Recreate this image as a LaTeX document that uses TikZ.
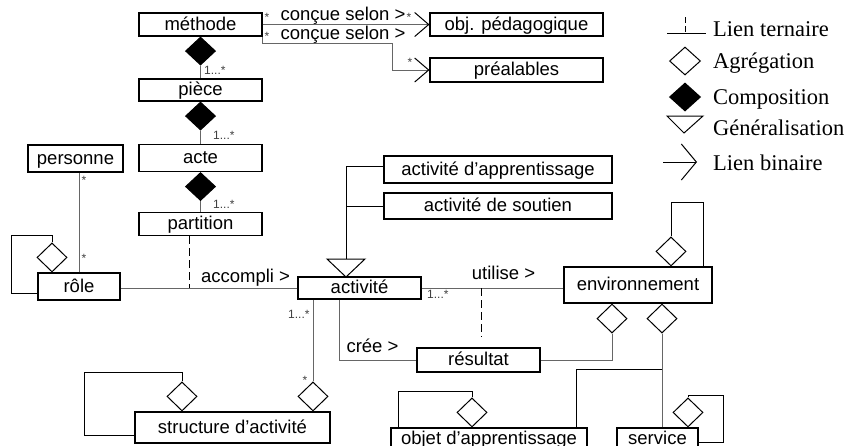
\documentclass[tikz,border=0pt]{standalone}
\usepackage{fontspec}
\setmainfont{Liberation Sans}
\newfontfamily\legendfont{Liberation Serif}
\usetikzlibrary{shapes.geometric,arrows.meta}

\begin{document}
\begin{tikzpicture}[x=1pt,y=-1pt,
  box/.style={draw=black, line width=1.1pt, inner sep=0pt,
    font=\fontsize{18.5}{18.5}\selectfont, text height=13pt, text depth=2pt},
  conn/.style={draw=black!60, line width=1pt},
  loopline/.style={draw=black, line width=1pt},
  aggr/.style={diamond, draw=black, line width=1pt, fill=white,
    minimum width=30pt, minimum height=29pt, inner sep=0pt},
  comp/.style={aggr, fill=black, minimum height=28pt},
  mult/.style={font=\fontsize{12}{12}\selectfont, text=black!75, inner sep=0pt, anchor=base west},
  star/.style={font=\fontsize{12}{12}\selectfont, text=black!75, inner sep=0pt, anchor=base},
  assoc/.style={font=\fontsize{18.5}{18.5}\selectfont, inner sep=0pt, anchor=base},
  tern/.style={draw=black, line width=1pt, dash pattern=on 8pt off 4pt},
  binarrow/.style={-{Straight Barb[length=14pt,width=24pt,line width=1pt,color=black]}},
  legendtext/.style={font=\legendfont\fontsize{22.5}{22.5}\selectfont, anchor=base west, inner sep=0pt}
]
\useasboundingbox (0,0) rectangle (851,445);

% ---- classes ----
\node[box, minimum width=123pt, minimum height=23pt] (methode) at (200.5,24.5) {méthode};
\node[box, minimum width=123pt, minimum height=22pt] (piece) at (200.5,90) {pièce};
\node[box, minimum width=123pt, minimum height=27pt] (acte) at (200.5,158) {acte};
\node[box, minimum width=123pt, minimum height=23pt] (partition) at (200.5,224) {partition};
\node[box, minimum width=95pt, minimum height=27pt] (personne) at (75.5,158.5) {personne};
\node[box, minimum width=82pt, minimum height=27pt] (role) at (79,286.5) {rôle};
\node[box, minimum width=123pt, minimum height=22pt] (activite) at (359.5,288) {activité};
\node[box, minimum width=228pt, minimum height=27pt] (actapp) at (498,169.5) {activité d’apprentissage};
\node[box, minimum width=228pt, minimum height=26pt] (actsout) at (498,206) {activité de soutien};
\node[box, minimum width=173pt, minimum height=23pt] (objped) at (516.5,24.5) {obj. pédagogique};
\node[box, minimum width=173pt, minimum height=24pt] (prealables) at (516.5,70) {préalables};
\node[box, minimum width=148pt, minimum height=36pt] (environnement) at (638,285) {environnement};
\node[box, minimum width=123pt, minimum height=24pt] (resultat) at (478.5,360) {résultat};
\node[box, minimum width=195pt, minimum height=31pt] (structure) at (232.5,427.5) {structure d’activité};
\node[box, minimum width=196pt, minimum height=22pt] (objet) at (489,439) {objet d’apprentissage};
\node[box, minimum width=81pt, minimum height=22pt] (service) at (657.5,439) {service};

% ---- méthode : conçue selon ----
\draw[conn, binarrow] (methode.east) -- (objped.west);
\draw[conn, binarrow] (methode.south east) |- (392,43) |- (prealables.west);
\node[assoc] (cs1) at (343,20.5) {conçue selon >};
\node[assoc] (cs2) at (343,39.5) {conçue selon >};
\node[star] (s1) at (267,21) {*};
\node[star] (s2) at (267,40) {*};
\node[star] (s3) at (409,21) {*};
\node[star] (s4) at (410,66) {*};

% ---- composition chain ----
\node[comp, anchor=north] (dc1) at (methode.south) {};
\draw[conn] (dc1.south) -- (piece.north);
\node[mult] (m1) at (204,74) {1...*};
\node[comp, anchor=north] (dc2) at (piece.south) {};
\draw[conn] (dc2.south) -- (acte.north);
\node[mult] (m2) at (213,139) {1...*};
\node[comp, anchor=north] (dc3) at (acte.south) {};
\draw[conn] (dc3.south) -- (partition.north);
\node[mult] (m3) at (213,208) {1...*};

% ---- personne / rôle ----
\draw[conn] (role.north) -- (role.north |- personne.south);
\node[star] (s5) at (84,184) {*};
\node[star] (s6) at (84,262) {*};
\node[aggr, anchor=south] (drl) at ([xshift=-27pt]role.north) {};
\draw[loopline] (drl.north) |- (11,235) |- ([yshift=-6.5pt]role.west);

% ---- rôle accompli activité ----
\draw[conn] (activite.west) -- (activite.west -| role.east);
\coordinate (pt) at ([xshift=-11.5pt]partition.south);
\draw[tern] (pt) -- (pt |- activite.west);
\node[assoc] (acc) at (245.5,282) {accompli >};

% ---- generalisation ----
\coordinate (gtop) at (346,259);
\draw[loopline] (327,259) -- (365,259) -- (346,277) -- cycle;
\coordinate (aa) at ([yshift=3.5pt]actapp.west);
\draw[loopline] (aa) -| (gtop);
\draw[loopline] (actsout.west) -| (gtop);

% ---- activité utilise environnement ----
\draw[conn] (activite.east) -- (activite.east -| environnement.west);
\node[mult] (m4) at (427,298) {1...*};
\node[assoc] (uti) at (503.5,279) {utilise >};
\coordinate (tend) at (481,337);
\draw[tern] (tend |- activite.east) -- (tend);

% ---- activité crée résultat ----
\coordinate (ac) at ([xshift=-20.5pt]activite.south);
\draw[conn] (ac) |- (resultat.west);
\node[assoc] (cree) at (372.5,352) {crée >};

% ---- environnement ----
\node[aggr, anchor=south] (dl) at ([xshift=33pt]environnement.north) {};
\coordinate (el) at ([xshift=65pt]environnement.north);
\draw[loopline] (dl.north) -- ++(0,-34) -| (el);
\node[aggr, anchor=north] (dre) at ([xshift=-26pt]environnement.south) {};
\node[aggr, anchor=north] (dse) at ([xshift=24pt]environnement.south) {};
\draw[conn] (resultat.east) -| (dre.south);
\draw[conn] (dse.south) -- (dse.south |- service.north);
\path (dse.south) ++(0,36) coordinate (junc);
\coordinate (ot) at ([xshift=87pt]objet.north);
\draw[loopline] (junc) -| (ot);

% ---- objet d'apprentissage / service loops ----
\node[aggr, anchor=south] (dol) at ([xshift=-17pt]objet.north) {};
\coordinate (ol) at ([xshift=-91pt]objet.north);
\draw[loopline] (dol.north) -- ++(0,-6) -| (ol);
\node[aggr, anchor=south] (dsv) at ([xshift=30.5pt]service.north) {};
\draw[loopline] (dsv.north) |- (723,395) |- ([yshift=-3pt]service.east);

% ---- structure d'activité ----
\node[aggr, anchor=south] (dsl) at ([xshift=-50.5pt]structure.north) {};
\draw[loopline] (dsl.north) |- (84,372) |- ([yshift=-7.5pt]structure.west);
\node[aggr, anchor=south] (dsa) at ([xshift=80.5pt]structure.north) {};
\draw[conn] (dsa.north) -- (dsa.north |- activite.south);
\node[mult] (m5) at (288,318) {1...*};
\node[star] (s7) at (305,384) {*};

% ---- legend ----
\coordinate (lt1) at (667,33);
\coordinate (lt2) at (706,33);
\coordinate (lt3) at (685,17);
\draw[loopline] (lt1) -- (lt2);
\draw[loopline, dash pattern=on 6pt off 3pt] (lt3) -- (lt3 |- lt1);
\node[legendtext] (lg1) at (713,36) {Lien ternaire};
\node[aggr, minimum width=31pt, minimum height=28pt] (lda) at (685,61) {};
\node[legendtext] (lg2) at (713,68) {Agrégation};
\node[comp, minimum width=31pt, minimum height=28pt] (ldc) at (685,97) {};
\node[legendtext] (lg3) at (713,104) {Composition};
\draw[loopline] (667,116) -- (703,116) -- (684,133) -- cycle;
\node[legendtext] (lg4) at (713,135) {Généralisation};
\coordinate (lb1) at (663,162);
\coordinate (lb2) at (697,162);
\draw[loopline, -{Straight Barb[length=15pt,width=36pt,line width=1pt]}] (lb1) -- (lb2);
\node[legendtext] (lg5) at (713,170) {Lien binaire};
\end{tikzpicture}
\end{document}
